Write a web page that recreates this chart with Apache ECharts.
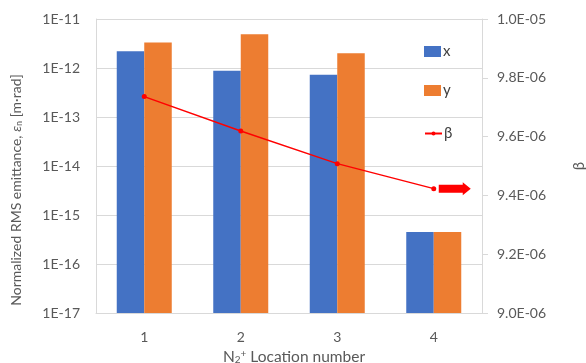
<!DOCTYPE html>
<html>
<head>
<meta charset="utf-8">
<script src="https://cdn.jsdelivr.net/npm/echarts@6/dist/echarts.min.js"></script>
<style>html,body{margin:0;padding:0;background:#fff}#c{width:586px;height:363px}</style>
</head>
<body>
<div id="c"></div>
<script>
var categories = ['1', '2', '3', '4'];
var xValues = [2.2e-12, 8.8e-13, 7.3e-13, 4.4e-16];
var yValues = [3.3e-12, 4.9e-12, 2.0e-12, 4.4e-16];
var betaValues = [9.736e-6, 9.619e-6, 9.508e-6, 9.423e-6];
var axisFloor = 1e-17;

var FONT = 'Lato';
var TXT = '#595959';

function fmtLog(v) {
  var e = Math.round(Math.log10(v));
  return '1E' + e;
}
function fmtSci(v) {
  var s = v.toExponential(1).split('e');
  var e = parseInt(s[1], 10);
  return s[0] + 'E' + (e < 0 ? '-' : '+') + String(Math.abs(e)).padStart(2, '0');
}
var baseData = categories.map(function () { return axisFloor; });

var chart = echarts.init(document.getElementById('c'), null, {renderer: 'canvas'});
chart.setOption({
  animation: false,
  textStyle: {fontFamily: FONT},
  grid: {left: 96, right: 104, top: 19, bottom: 50, containLabel: false, outerBoundsMode: 'none'},
  legend: [{
    orient: 'vertical',
    left: 419, top: 39,
    itemGap: 24,
    itemWidth: 17, itemHeight: 11,
    textStyle: {fontFamily: FONT, fontSize: 15, color: '#404040', padding: [0, 0, 0, -3]},
    data: [{name: 'x', icon: 'rect'}, {name: 'y', icon: 'rect'}]
  }, {
    orient: 'vertical',
    left: 419, top: 121,
    itemWidth: 17, itemHeight: 5,
    textStyle: {fontFamily: FONT, fontSize: 15, color: '#404040', padding: [0, 0, 0, -3]},
    data: [{name: 'β'}]
  }],
  xAxis: {
    type: 'category',
    data: categories,
    axisLine: {lineStyle: {color: '#d9d9d9'}},
    axisTick: {show: false},
    axisLabel: {color: TXT, fontSize: 14, margin: 17, fontFamily: FONT},
    name: 'N{sub|2}{sup|+} Location number',
    nameLocation: 'middle',
    nameGap: 33,
    nameTextStyle: {
      color: TXT, fontSize: 15.5, fontFamily: FONT, padding: [0, 0, 0, 10],
      rich: {
        sub: {fontSize: 10, color: TXT, fontFamily: FONT, verticalAlign: 'bottom', padding: [6, 0, 0, 0]},
        sup: {fontSize: 10, color: TXT, fontFamily: FONT, verticalAlign: 'top', padding: [0, 0, 6, 0]}
      }
    }
  },
  yAxis: [{
    type: 'log',
    logBase: 10,
    min: 1e-17,
    max: 1e-11,
    axisLine: {show: true, lineStyle: {color: '#d9d9d9'}},
    axisTick: {show: false},
    splitLine: {show: true, lineStyle: {color: '#d9d9d9'}},
    axisLabel: {color: TXT, fontSize: 14, margin: 16, fontFamily: FONT, formatter: fmtLog},
    name: 'Normalized RMS emittance, {i|ε}{sub|n} [m·rad]{gap| }',
    nameLocation: 'middle',
    nameGap: 72,
    nameTextStyle: {
      color: TXT, fontSize: 14, fontFamily: FONT,
      rich: {
        i: {fontStyle: 'italic', fontSize: 14, color: TXT, fontFamily: FONT},
        sub: {fontSize: 9, color: TXT, fontFamily: FONT, verticalAlign: 'bottom', padding: [6, 0, 0, 0]},
        gap: {width: 48, fontSize: 14, fontFamily: FONT}
      }
    }
  }, {
    type: 'value',
    min: 9.0e-6,
    max: 1.0e-5,
    interval: 2e-7,
    position: 'right',
    axisLine: {show: true, lineStyle: {color: '#d9d9d9'}},
    axisTick: {show: true, length: 6, lineStyle: {color: '#d9d9d9'}},
    splitLine: {show: false},
    axisLabel: {color: TXT, fontSize: 14, margin: 15, fontFamily: FONT, formatter: fmtSci},
    name: 'β',
    nameLocation: 'middle',
    nameGap: 90,
    nameRotate: 90,
    nameTextStyle: {color: TXT, fontSize: 15, fontFamily: FONT}
  }],
  series: [{
    name: 'baseX', type: 'bar', stack: 'sx', data: baseData, barWidth: 27.5, barGap: '0%',
    itemStyle: {color: 'rgba(0,0,0,0)'}, silent: true
  }, {
    name: 'x', type: 'bar', stack: 'sx', data: xValues, barWidth: 27.5, barGap: '0%',
    itemStyle: {color: '#4472C4'}
  }, {
    name: 'baseY', type: 'bar', stack: 'sy', data: baseData, barWidth: 27.5, barGap: '0%',
    itemStyle: {color: 'rgba(0,0,0,0)'}, silent: true
  }, {
    name: 'y', type: 'bar', stack: 'sy', data: yValues, barWidth: 27.5, barGap: '0%',
    itemStyle: {color: '#ED7D31'}
  }, {
    name: 'β', type: 'line', yAxisIndex: 1, data: betaValues,
    symbol: 'circle', symbolSize: 5,
    lineStyle: {color: '#FF0000', width: 1.5},
    itemStyle: {color: '#FF0000'},
    markPoint: {
      silent: true,
      symbol: 'path://M0,2.5 L24,2.5 L24,0 L32,6.5 L24,13 L24,10.5 L0,10.5 Z',
      symbolSize: [32, 13],
      symbolKeepAspect: false,
      symbolOffset: [21, 0],
      itemStyle: {color: '#FF0000'},
      label: {show: false},
      data: [{coord: [3, betaValues[3]]}]
    }
  }]
});
</script>
</body>
</html>
